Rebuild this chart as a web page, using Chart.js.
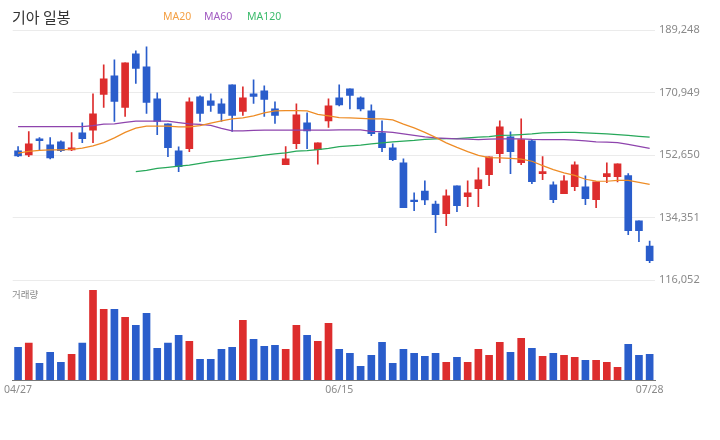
<!DOCTYPE html>
<html>
<head>
<meta charset="utf-8">
<script src="https://cdn.jsdelivr.net/npm/chart.js@4.4.1/dist/chart.umd.min.js"></script>
<style>
  body { margin: 0; background: #fff; }
  #wrap { position: relative; width: 720px; height: 440px; font-family: "Noto Sans", "Noto Sans CJK KR", sans-serif; }
  #title { position: absolute; left: 12px; top: 9px; font-size: 15px; line-height: 1; color: #333; font-family: "Noto Sans CJK KR", sans-serif; }
  .ma { position: absolute; top: 11px; font-size: 10.5px; line-height: 1; }
  #volLabel { position: absolute; left: 12px; top: 290px; font-size: 9.5px; line-height: 1; color: #888; font-family: "Noto Sans CJK KR", sans-serif; }
</style>
</head>
<body>
<div id="wrap">
  <canvas id="stockChart" width="720" height="440"></canvas>
  <div id="title">기아 일봉</div>
  <div class="ma" style="left:163px;color:#f4a045">MA20</div>
  <div class="ma" style="left:204px;color:#a25cc2">MA60</div>
  <div class="ma" style="left:247px;color:#3cbb6c">MA120</div>
  <div id="volLabel">거래량</div>
</div>
<script>
// daily candles (price in KRW)
const dates = ["04/27","04/28","04/29","04/30","05/04","05/06","05/07","05/08","05/11","05/12",
  "05/13","05/14","05/15","05/18","05/19","05/20","05/21","05/22","05/26","05/27",
  "05/28","05/29","06/01","06/02","06/04","06/05","06/08","06/09","06/10","06/11",
  "06/15","06/16","06/17","06/18","06/19","06/22","06/23","06/24","06/25","06/26",
  "06/29","06/30","07/01","07/02","07/06","07/07","07/08","07/09","07/10","07/13",
  "07/14","07/15","07/16","07/20","07/21","07/22","07/23","07/24","07/27","07/28"];

const openP = [153850,152680,157370,155610,156490,154150,159130,159930,170360,175850,
  166550,182300,178490,169100,161770,153850,154530,169690,168520,167640,
  173210,165380,170570,171450,166170,149840,155990,162060,154230,162650,
  169400,172040,169400,165580,159130,154730,150340,139480,142120,138310,
  135470,143590,140450,142800,146900,153060,157960,150420,156790,147200,
  143880,141330,143390,143300,139570,146320,146320,146610,133410,125990];

const highP = [155110,159520,157750,157750,156790,159230,162060,170570,179070,180540,
  179660,183180,184350,170860,161770,155030,169400,169980,170570,169100,
  173210,172620,174670,172910,168220,155110,167640,165000,156200,169100,
  173210,172040,169690,167340,162650,155910,151510,141540,145060,139190,
  142420,143590,145060,148870,152090,162650,159420,163240,157080,152180,
  144760,146610,150630,146520,144760,150340,150040,147200,133410,127460];

const lowP = [152180,152180,153940,151510,153650,153940,156290,156290,166550,162450,
  163910,173590,164790,158630,152180,147780,153650,162450,165380,162450,
  159520,164210,167720,163910,161860,149840,154530,154530,149950,160690,
  167050,166170,165580,158340,153650,151010,137230,136350,138110,129900,
  131950,136050,137520,137520,143680,150420,147200,149840,144270,145440,
  138690,141330,142210,138110,137230,144560,144760,129310,127260,121100];

const closeP = [152390,155910,156870,151820,153940,154730,157460,164700,174970,168310,
  179660,177990,168020,162450,154820,149250,168220,164790,167140,164790,
  164210,169400,169780,168900,164210,151510,164410,159720,156200,167050,
  167340,170070,166170,158930,154820,151300,137230,138990,139480,135170,
  140660,137810,141540,145350,152090,160890,153650,157170,144850,147780,
  139570,145060,149750,139870,144760,147200,150040,130480,130480,121680];

// volume (thousand shares)
const volume = [980,1110,500,830,530,770,1110,2690,2120,2120,
  1880,1640,2000,950,1110,1340,1160,620,620,920,
  980,1790,1220,1010,1040,920,1640,1340,1160,1700,
  920,800,410,740,1130,500,920,800,710,800,
  530,680,530,920,740,1130,830,1250,950,710,
  800,740,680,590,590,530,380,1070,740,770];

const ma20 = [153180,153710,154000,154150,154150,154290,154640,155320,156290,157670,
  159280,160510,161100,161100,161100,160890,160890,161270,161980,162650,
  163240,163530,164120,165000,165580,165670,165670,165580,164560,164120,
  163620,163530,163380,163240,163240,162940,161680,160600,159280,157810,
  156200,154880,153650,152530,151890,151800,151650,151420,150830,149540,
  148370,147400,146670,145550,145000,144970,145200,145200,144620,144030];

const ma60 = [160980,160980,160980,160980,160980,160980,160980,161270,161680,161770,
  162210,162560,162560,162560,162560,162150,161770,161620,161330,160450,
  159720,159720,159870,159920,159920,159920,159920,159920,159920,159920,
  160010,160010,160010,159570,159510,159280,158840,158400,157960,157670,
  157520,157370,157280,157170,157280,157370,157370,157370,157230,157170,
  157170,157170,156990,156790,156490,156400,156290,155760,155170,154590];

const ma120 = [null,null,null,null,null,null,null,null,null,null,
  null,147780,148140,148720,149010,149370,149660,150190,150690,151070,
  151420,151800,152180,152620,152970,153270,153770,153910,154210,154590,
  155110,155320,155550,155910,156200,156490,156700,156930,157230,157370,
  157430,157460,157670,157900,158050,158400,158460,158630,158840,159130,
  159220,159280,159280,159130,158990,158840,158600,158400,158110,157870];

const priceTicks = [116052, 134351, 152650, 170949, 189248];
const xTickIdx = [0, 30, 59];

const UP = "#dd2d2d";
const DOWN = "#2a5dcb";
const barColors = openP.map((o, i) => closeP[i] >= o ? UP : DOWN);

const bodies = openP.map((o, i) => [Math.min(o, closeP[i]), Math.max(o, closeP[i])]);
const wicks = lowP.map((l, i) => [l, highP[i]]);

const ctx = document.getElementById("stockChart").getContext("2d");
new Chart(ctx, {
  type: "bar",
  data: {
    labels: dates,
    datasets: [
      { type: "line", label: "MA20", data: ma20, yAxisID: "y", borderColor: "#ee8c25", borderWidth: 1.2, pointRadius: 0, tension: 0, order: 0 },
      { type: "line", label: "MA60", data: ma60, yAxisID: "y", borderColor: "#8e44ad", borderWidth: 1.2, pointRadius: 0, tension: 0, order: 0 },
      { type: "line", label: "MA120", data: ma120, yAxisID: "y", borderColor: "#27a85a", borderWidth: 1.2, pointRadius: 0, tension: 0, order: 0 },
      { label: "wick", data: wicks, yAxisID: "y", backgroundColor: barColors, barThickness: 1, grouped: false, order: 2 },
      { label: "body", data: bodies, yAxisID: "y", backgroundColor: barColors, barThickness: 7, grouped: false, order: 1 },
      { label: "volume", data: volume, yAxisID: "vol", backgroundColor: barColors, barThickness: 7, grouped: false, order: 3 }
    ]
  },
  options: {
    responsive: false,
    animation: false,
    layout: { padding: { left: 12, top: 30, right: 0, bottom: 0 } },
    plugins: { legend: { display: false }, tooltip: { enabled: false } },
    scales: {
      x: {
        grid: { display: false, drawTicks: false },
        border: { display: true, color: "#777", width: 1 },
        ticks: {
          autoSkip: false,
          maxRotation: 0,
          padding: 4,
          color: "#8a8a8a",
          font: { size: 10.5, family: "'Noto Sans', sans-serif" },
          callback: (v, i) => xTickIdx.includes(i) ? dates[i] : ""
        },
        afterFit: (s) => { s.height = 60; }
      },
      y: {
        position: "right",
        min: 86774,
        max: 189248,
        afterBuildTicks: (s) => { s.ticks = priceTicks.map(v => ({ value: v })); },
        grid: { color: "#ebebeb", drawTicks: false },
        border: { display: false },
        ticks: {
          padding: 4,
          color: "#8a8a8a",
          font: { size: 11, family: "'Noto Sans', sans-serif" },
          callback: (v) => v.toLocaleString("en-US")
        },
        afterFit: (s) => { s.width = 65; }
      },
      vol: {
        display: false,
        min: 0,
        max: 10500
      }
    }
  }
});
</script>
</body>
</html>
